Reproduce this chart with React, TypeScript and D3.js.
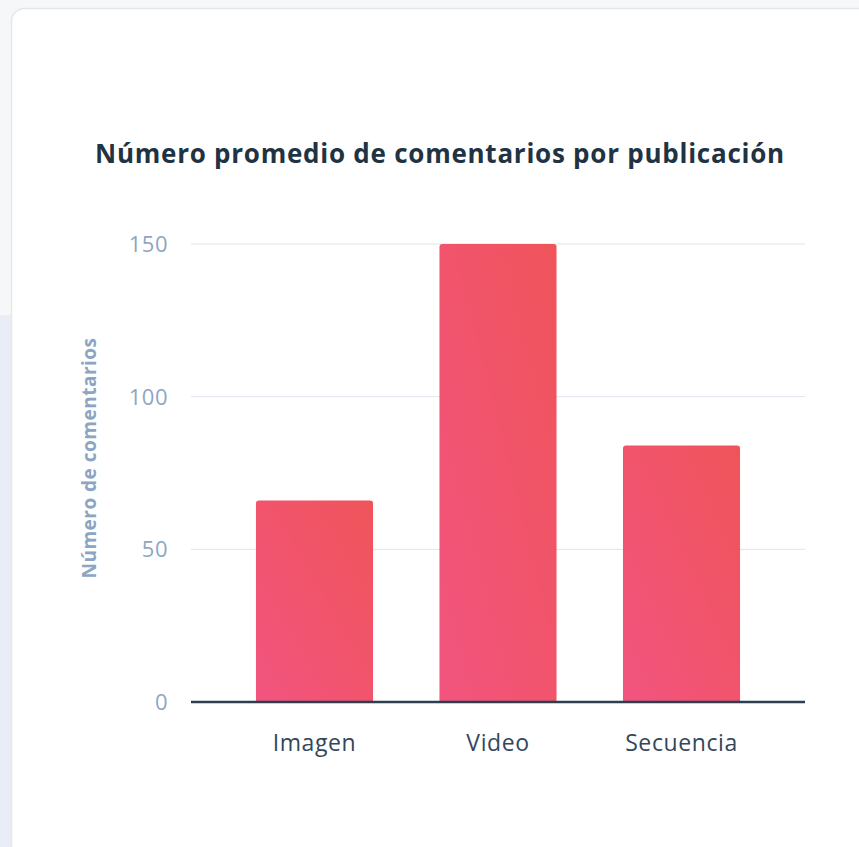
import React from "react";
import * as d3 from "d3";

const categories = ["Imagen", "Video", "Secuencia"];
const values = [66, 150, 84];
const yTicks = [0, 50, 100, 150];
const title = "Número promedio de comentarios por publicación";
const yTitle = "Número de comentarios";

const W = 859;
const H = 847;

export default function App() {
  const x = d3
    .scaleBand<string>()
    .domain(categories)
    .range([191, 805])
    .paddingInner(0.362)
    .paddingOuter(0.354);
  const y = d3.scaleLinear().domain([0, 150]).range([702, 244]);

  const r = 3;
  const barPath = (c: string, v: number) => {
    const x0 = x(c)!;
    const w = x.bandwidth();
    const yt = y(v);
    const yb = y(0);
    const p = d3.path();
    p.moveTo(x0, yb);
    p.lineTo(x0, yt + r);
    p.quadraticCurveTo(x0, yt, x0 + r, yt);
    p.lineTo(x0 + w - r, yt);
    p.quadraticCurveTo(x0 + w, yt, x0 + w, yt + r);
    p.lineTo(x0 + w, yb);
    p.closePath();
    return p.toString();
  };

  return (
    <svg
      width={W}
      height={H}
      style={{ position: "fixed", left: 0, top: 0, fontFamily: "'Open Sans', Lato, sans-serif" }}
    >
      <defs>
        <linearGradient id="barGrad" x1="0" y1="1" x2="1" y2="0">
          <stop offset="0%" stopColor="#f2547f" />
          <stop offset="100%" stopColor="#f0545a" />
        </linearGradient>
      </defs>
      <rect x={0} y={0} width={W} height={H} fill="#f6f7f8" />
      <rect x={0} y={315} width={14} height={H - 315} fill="#eaedf6" />
      <rect
        x={11.5}
        y={8.5}
        width={W + 20}
        height={H + 20}
        rx={13}
        fill="#ffffff"
        stroke="#e6e7e9"
        strokeWidth={1.5}
      />
      <text
        x={440}
        y={163}
        textAnchor="middle"
        fontSize={26}
        fontWeight={700}
        letterSpacing={0.75}
        fill="#213343"
      >
        {title}
      </text>
      {yTicks.filter((t) => t !== 0).map((t) => (
        <line
          key={"g" + t}
          x1={191}
          x2={805}
          y1={y(t)}
          y2={y(t)}
          stroke="#dfe3ea"
          strokeWidth={1}
        />
      ))}
      {yTicks.map((t) => (
        <text
          key={"t" + t}
          x={168}
          y={y(t)}
          dy="0.36em"
          textAnchor="end"
          fontSize={22}
          fontWeight={400}
          letterSpacing={0.5}
          fill="#8ea6c1"
        >
          {t}
        </text>
      ))}
      <text
        transform={`translate(96,458) rotate(-90)`}
        textAnchor="middle"
        fontSize={19}
        fontWeight={700}
        letterSpacing={0.5}
        fill="#8ba5c2"
      >
        {yTitle}
      </text>
      {categories.map((c, i) => (
        <path key={c} d={barPath(c, values[i])} fill="url(#barGrad)" />
      ))}
      <line x1={191} x2={805} y1={702} y2={702} stroke="#2d3e50" strokeWidth={2.5} />
      {categories.map((c) => (
        <text
          key={"x" + c}
          x={x(c)! + x.bandwidth() / 2}
          y={751}
          textAnchor="middle"
          fontSize={23}
          letterSpacing={0.6}
          fill="#33475b"
        >
          {c}
        </text>
      ))}
    </svg>
  );
}
